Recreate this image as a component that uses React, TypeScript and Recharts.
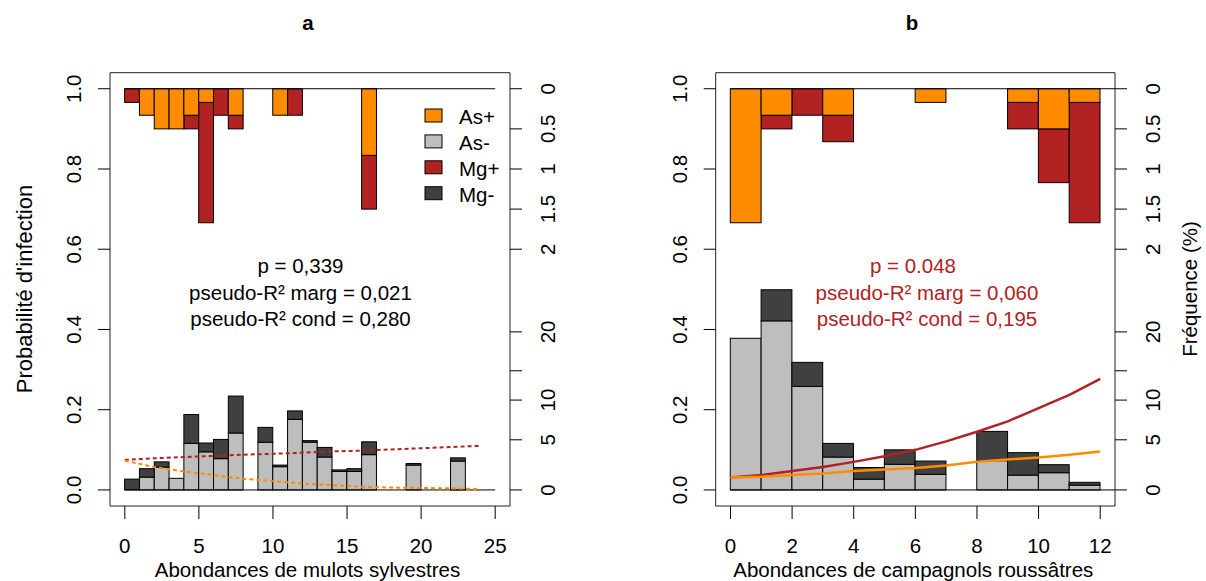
import React from 'react';
import {
  ComposedChart,
  Bar,
  Line,
  XAxis,
  YAxis,
  ReferenceLine,
  ReferenceArea,
} from 'recharts';

const ORANGE = '#FF8C00';
const RED = '#B22222';
const GREY = '#BEBEBE';
const DARK = '#404040';
const FONT = '"Liberation Sans", Arial, sans-serif';

// ---- panel a: mulots sylvestres (bins of 1 individual) ----
const binsA = [0, 1, 2, 3, 4, 5, 6, 7, 8, 9, 10, 11, 12, 13, 14, 15, 16, 17, 18, 19, 20, 21, 22, 23, 24];
// infected, % (hanging from the top, upper right scale)
const asPosA = [0, 0.33, 0.5, 0.5, 0.33, 0.17, 0, 0.33, 0, 0, 0.33, 0, 0, 0, 0, 0, 0.83, 0, 0, 0, 0, 0, 0, 0, 0];
const mgPosA = [0.17, 0, 0, 0, 0.17, 1.5, 0.33, 0.17, 0, 0, 0, 0.33, 0, 0, 0, 0, 0.67, 0, 0, 0, 0, 0, 0, 0, 0];
// non infected, bar heights on the probability axis (lower right scale)
const asNegA = [0, 0.032, 0.057, 0.029, 0.116, 0.095, 0.078, 0.142, 0, 0.119, 0.058, 0.176, 0.119, 0.082, 0.046, 0.046, 0.088, 0, 0, 0.062, 0, 0, 0.072, 0, 0];
const mgNegA = [0.027, 0.021, 0.013, 0, 0.072, 0.022, 0.048, 0.092, 0, 0.037, 0.004, 0.021, 0.004, 0.024, 0.004, 0.007, 0.032, 0, 0, 0.004, 0, 0, 0.008, 0, 0];
// fitted probabilities
const fitXA = [0, 2, 4, 6, 8, 10, 12, 14, 16, 18, 20, 22, 24];
const mgFitA = [0.075, 0.079, 0.082, 0.085, 0.088, 0.09, 0.093, 0.096, 0.098, 0.101, 0.104, 0.107, 0.11];
const asFitA = [0.073, 0.057, 0.046, 0.037, 0.028, 0.022, 0.016, 0.012, 0.008, 0.006, 0.005, 0.004, 0.002];
const xTicksA = [0, 5, 10, 15, 20, 25];

// ---- panel b: campagnols roussâtres ----
const binsB = [0, 1, 2, 3, 4, 5, 6, 7, 8, 9, 10, 11];
const asPosB = [1.67, 0.33, 0, 0.33, 0, 0, 0.17, 0, 0, 0.17, 0.5, 0.17];
const mgPosB = [0, 0.17, 0.33, 0.33, 0, 0, 0, 0, 0, 0.33, 0.67, 1.5];
const asNegB = [0.378, 0.4215, 0.258, 0.082, 0.027, 0.064, 0.039, 0, 0.073, 0.037, 0.043, 0.012];
const mgNegB = [0, 0.0775, 0.06, 0.034, 0.029, 0.036, 0.033, 0, 0.073, 0.056, 0.02, 0.007];
const fitXB = [0, 1, 2, 3, 4, 5, 6, 7, 8, 9, 10, 11, 12];
const mgFitB = [0.031, 0.037, 0.047, 0.057, 0.07, 0.084, 0.1, 0.121, 0.145, 0.171, 0.204, 0.237, 0.277];
const asFitB = [0.031, 0.033, 0.037, 0.041, 0.047, 0.051, 0.055, 0.061, 0.07, 0.076, 0.081, 0.088, 0.096];
const xTicksB = [0, 2, 4, 6, 8, 10, 12];

// ---- shared axes ----
const probTicks = [0, 0.2, 0.4, 0.6, 0.8, 1];
const topFreqTicks = [0, 0.5, 1, 1.5, 2];
const lowFreqLabels = ['0', '5', '10', '', '20'];
const lowFreqPos = [0, 0.125, 0.224, 0.297, 0.394];
const TOP_SPAN = 5; // 2 % of the upper scale covers 0.4 of probability

const legendItems = [
  { label: 'As+', color: ORANGE },
  { label: 'As-', color: GREY },
  { label: 'Mg+', color: RED },
  { label: 'Mg-', color: DARK },
];

const CHART_W = 603;
const CHART_H = 581;
const PLOT_TOP = 72.7;
const PLOT_BOTTOM = 506;
const Y_DOMAIN: [number, number] = [-0.04, 1.04];

function buildRows(bins: number[], asPos: number[], mgPos: number[], asNeg: number[], mgNeg: number[]) {
  return bins.map((b, i) => {
    const o = asPos[i] / TOP_SPAN;
    const r = mgPos[i] / TOP_SPAN;
    return {
      x: b + 0.5,
      asNeg: asNeg[i],
      mgNeg: mgNeg[i],
      gap: 1 - asNeg[i] - mgNeg[i] - o - r,
      mgPos: r,
      asPos: o,
    };
  });
}

function buildFit(xs: number[], ys: number[]) {
  return xs.map((x, i) => ({ x, y: ys[i] }));
}

const rightTicks = [...topFreqTicks.map((f) => 1 - f / TOP_SPAN), ...lowFreqPos];
const rightLabels = [...topFreqTicks.map((f) => String(f)), ...lowFreqLabels];

interface PanelProps {
  rows: ReturnType<typeof buildRows>;
  mgFit: { x: number; y: number }[];
  asFit: { x: number; y: number }[];
  xDomain: [number, number];
  xTicks: number[];
  lineEnd: number;
  plotLeft: number;
  plotRight: number;
  dotted: boolean;
}

function Panel({ rows, mgFit, asFit, xDomain, xTicks, lineEnd, plotLeft, plotRight, dotted }: PanelProps) {
  const unitPx = (plotRight - plotLeft) / (xDomain[1] - xDomain[0]);
  const yW = 60;
  const xH = 60;

  const leftTick = ({ y, payload }: any) => {
    const lx = plotLeft - 28.5;
    return (
      <text x={lx} y={y} transform={`rotate(-90, ${lx}, ${y})`} textAnchor="middle" fontSize={20.5} fill="#000" fontFamily={FONT}>
        {Number(payload.value).toFixed(1)}
      </text>
    );
  };
  const rightTick = ({ y, payload, index }: any) => {
    const lx = plotRight + 45.5;
    const i = index ?? rightTicks.indexOf(payload.value);
    return (
      <text x={lx} y={y} transform={`rotate(-90, ${lx}, ${y})`} textAnchor="middle" fontSize={20.5} fill="#000" fontFamily={FONT}>
        {rightLabels[i]}
      </text>
    );
  };
  const bottomTick = ({ x, payload }: any) => (
    <text x={x} y={PLOT_BOTTOM + 47} textAnchor="middle" fontSize={20.5} fill="#000" fontFamily={FONT}>
      {payload.value}
    </text>
  );

  // each bin is one unit wide on the x scale, whatever band recharts picks
  const binShape = (color: string) => (props: any) => {
    const { x, y, width, height } = props;
    if (!height || Math.abs(height) < 0.01) return <g />;
    const cx = x + width / 2;
    const top = height < 0 ? y + height : y;
    return (
      <rect x={cx - unitPx / 2} y={top} width={unitPx} height={Math.abs(height)} fill={color} stroke="#000" strokeWidth={1} />
    );
  };
  const emptyShape = () => <g />;

  const dash = dotted ? '4 3' : undefined;
  const lw = dotted ? 2 : 2.5;

  return (
    <ComposedChart
      width={CHART_W}
      height={CHART_H}
      data={rows}
      barCategoryGap={0}
      barGap={0}
      margin={{
        top: PLOT_TOP,
        bottom: CHART_H - PLOT_BOTTOM - xH,
        left: plotLeft - yW,
        right: CHART_W - plotRight - yW,
      }}
    >
      <XAxis
        dataKey="x"
        type="number"
        domain={xDomain}
        ticks={xTicks}
        interval={0}
        height={xH}
        axisLine={false}
        tickSize={13}
        tickLine={{ stroke: '#000' }}
        tick={bottomTick}
        allowDataOverflow
      />
      <YAxis
        yAxisId="p"
        type="number"
        domain={Y_DOMAIN}
        ticks={probTicks}
        interval={0}
        width={yW}
        axisLine={false}
        tickSize={12}
        tickLine={{ stroke: '#000' }}
        tick={leftTick}
        allowDataOverflow
      />
      <YAxis
        yAxisId="f"
        orientation="right"
        type="number"
        domain={Y_DOMAIN}
        ticks={rightTicks}
        interval={0}
        width={yW}
        axisLine={false}
        tickSize={12}
        tickLine={{ stroke: '#000' }}
        tick={rightTick}
        allowDataOverflow
      />
      <Bar yAxisId="p" dataKey="asNeg" stackId="s" fill={GREY} shape={binShape(GREY)} isAnimationActive={false} />
      <Bar yAxisId="p" dataKey="mgNeg" stackId="s" fill={DARK} shape={binShape(DARK)} isAnimationActive={false} />
      <Bar yAxisId="p" dataKey="gap" stackId="s" fill="none" shape={emptyShape} isAnimationActive={false} />
      <Bar yAxisId="p" dataKey="mgPos" stackId="s" fill={RED} shape={binShape(RED)} isAnimationActive={false} />
      <Bar yAxisId="p" dataKey="asPos" stackId="s" fill={ORANGE} shape={binShape(ORANGE)} isAnimationActive={false} />
      <ReferenceLine yAxisId="p" segment={[{ x: 0, y: 1 }, { x: lineEnd, y: 1 }]} stroke="#000" strokeWidth={1} />
      <ReferenceLine yAxisId="p" segment={[{ x: 0, y: 0 }, { x: lineEnd, y: 0 }]} stroke="#000" strokeWidth={1} />
      <Line yAxisId="p" data={mgFit} dataKey="y" type="linear" stroke={RED} strokeWidth={lw} strokeDasharray={dash} dot={false} isAnimationActive={false} />
      <Line yAxisId="p" data={asFit} dataKey="y" type="linear" stroke={ORANGE} strokeWidth={lw} strokeDasharray={dash} dot={false} isAnimationActive={false} />
      <ReferenceArea yAxisId="p" x1={xDomain[0]} x2={xDomain[1]} y1={Y_DOMAIN[0]} y2={Y_DOMAIN[1]} fill="none" stroke="#222" strokeWidth={1} ifOverflow="visible" />
    </ComposedChart>
  );
}

const rowsA = buildRows(binsA, asPosA, mgPosA, asNegA, mgNegA);
const rowsB = buildRows(binsB, asPosB, mgPosB, asNegB, mgNegB);

export default function App() {
  const txt = { fontFamily: FONT, fontSize: 20.5 } as const;
  return (
    <div style={{ position: 'absolute', left: 0, top: 0, width: 1206, height: 581, background: '#fff', overflow: 'hidden' }}>
      <div style={{ position: 'absolute', left: 0, top: 0 }}>
        <Panel
          rows={rowsA}
          mgFit={buildFit(fitXA, mgFitA)}
          asFit={buildFit(fitXA, asFitA)}
          xDomain={[-1, 26]}
          xTicks={xTicksA}
          lineEnd={25}
          plotLeft={110}
          plotRight={510}
          dotted
        />
      </div>
      <div style={{ position: 'absolute', left: CHART_W, top: 0 }}>
        <Panel
          rows={rowsB}
          mgFit={buildFit(fitXB, mgFitB)}
          asFit={buildFit(fitXB, asFitB)}
          xDomain={[-0.48, 12.48]}
          xTicks={xTicksB}
          lineEnd={12.48}
          plotLeft={112.7}
          plotRight={512}
          dotted={false}
        />
      </div>
      <svg width={1206} height={581} style={{ position: 'absolute', left: 0, top: 0, pointerEvents: 'none' }}>
        <text x={308} y={30} textAnchor="middle" fontWeight="bold" {...txt}>a</text>
        <text x={912} y={30} textAnchor="middle" fontWeight="bold" {...txt}>b</text>

        {legendItems.map((it, i) => (
          <g key={it.label}>
            <rect x={425} y={109 + i * 25.9} width={17} height={13} fill={it.color} stroke="#000" strokeWidth={1} />
            <text x={459} y={123.5 + i * 26} {...txt}>{it.label}</text>
          </g>
        ))}

        <g textAnchor="middle" {...txt}>
          <text x={300.5} y={273}>p = 0,339</text>
          <text x={300.5} y={299.5}>pseudo-R² marg = 0,021</text>
          <text x={300.5} y={325.5}>pseudo-R² cond = 0,280</text>
        </g>
        <g textAnchor="middle" fill={RED} {...txt}>
          <text x={913} y={273}>p = 0.048</text>
          <text x={927} y={299.5}>pseudo-R² marg = 0,060</text>
          <text x={927} y={325.5}>pseudo-R² cond = 0,195</text>
        </g>

        <text x={307.5} y={577} textAnchor="middle" {...txt}>Abondances de mulots sylvestres</text>
        <text x={913.3} y={577} textAnchor="middle" {...txt}>Abondances de campagnols roussâtres</text>

        <text x={31.5} y={289} transform="rotate(-90, 31.5, 289)" textAnchor="middle" fontFamily={FONT} fontSize={22}>Probabilité d'infection</text>
        <text x={1197} y={289} transform="rotate(-90, 1197, 289)" textAnchor="middle" {...txt}>Fréquence (%)</text>
      </svg>
    </div>
  );
}
